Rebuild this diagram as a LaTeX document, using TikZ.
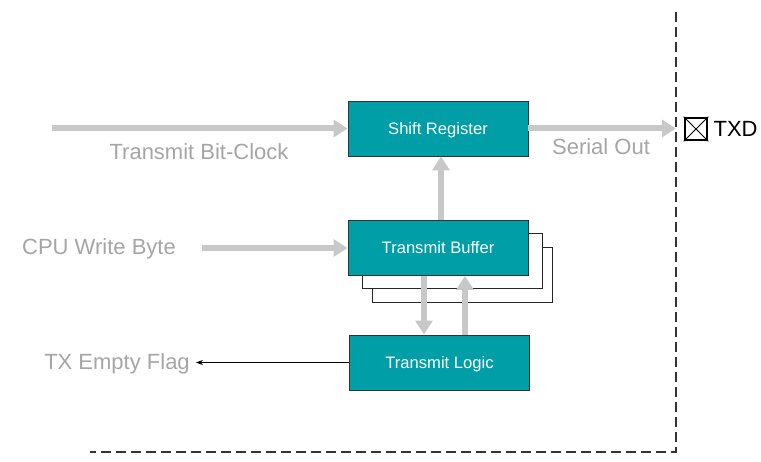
\documentclass[tikz,border=0pt]{standalone}
\usepackage{fontspec}
\setmainfont{Liberation Sans}
\usetikzlibrary{arrows.meta,positioning}

\definecolor{boxteal}{RGB}{0,158,167}
\definecolor{flowgray}{RGB}{200,200,200}
\definecolor{labelgray}{RGB}{165,165,165}

\tikzset{
  block/.style={draw=black!80, line width=0.9pt, fill=boxteal, text=white,
    minimum width=180pt, minimum height=55pt, inner sep=0pt,
    text height=11.9pt, text depth=0pt, font=\fontsize{16.6}{18}\selectfont},
  shadowbox/.style={draw=black!85, line width=0.9pt, fill=white,
    minimum width=180pt, minimum height=55pt, inner sep=0pt},
  flow/.style={draw=flowgray, line width=6pt, -{Triangle[width=17pt,length=14pt]}},
  flowlabel/.style={text=labelgray, inner sep=0pt, text height=15.8pt, text depth=0pt,
    font=\fontsize{22}{24}\selectfont},
}

\begin{document}
\begin{tikzpicture}[x=1pt, y=-1pt]
  \useasboundingbox (0,0) rectangle (761,462);

  % boundary of the chip
  \draw[black!80, line width=1.2pt, dash pattern=on 10pt off 5pt]
    (676,12) -- (676,452) -- (90,452);

  % stacked buffer
  \node[shadowbox] (buffer3) at (462,275) {};
  \node[shadowbox] (buffer2) at (452,261) {};
  \node[block] (buffer) at (438,248) {Transmit Buffer};
  \node[block] (shift) at (438,128.5) {Shift Register};
  \node[block] (logic) at (439.5,362.5) {Transmit Logic};

  % pin
  \node[draw, line width=2.8pt, minimum size=22pt, inner sep=0pt] (txd) at (696,129) {};
  \draw[line width=0.8pt] (txd.north west) -- (txd.south east)
                          (txd.north east) -- (txd.south west);
  \node[right=5pt of txd, inner sep=0pt, font=\fontsize{22}{24}\selectfont] (txdname) {TXD};

  % labels
  \node[flowlabel] (clock) at (199,152) {Transmit Bit-Clock};
  \node[flowlabel] (serial) at (601,147) {Serial Out};
  \node[flowlabel] (cpu) at (99,247) {CPU Write Byte};
  \node[flowlabel, inner sep=6pt] (flag) at (117,361.5) {TX Empty Flag};

  \coordinate (clockin) at (52,128.5);
  \coordinate (serialout) at (676,128.5);
  \coordinate (cpuin) at (202,248);

  % data flow
  \draw[flow] (clockin) -- (shift.west);
  \draw[flow] (shift.east) -- (serialout);
  \draw[flow] (cpuin) -- (buffer.west);
  \draw[flow] ([xshift=3pt]buffer.north) -- ([xshift=3pt]shift.south);
  \draw[flow] ([xshift=-14pt]buffer.south) -- ([xshift=-15.5pt]logic.north);
  \draw[flow] ([xshift=25.5pt]logic.north) -- ([xshift=27pt]buffer.south);
  \draw[line width=0.8pt, -{Stealth[length=7pt,width=5pt]}] (logic.west) -- (flag.east |- logic.west);
\end{tikzpicture}
\end{document}
